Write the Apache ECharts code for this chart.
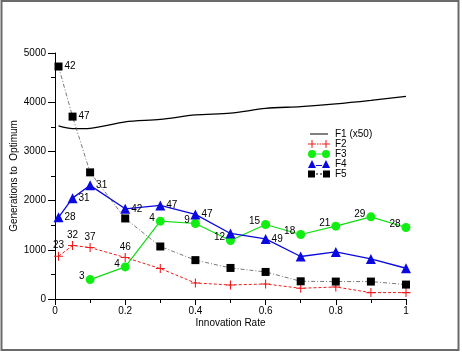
<!DOCTYPE html>
<html>
<head>
<meta charset="utf-8">
<script src="https://cdn.jsdelivr.net/npm/echarts@6/dist/echarts.min.js"></script>
<style>
  html, body { margin: 0; padding: 0; background: #fff; }
  #chart { width: 462px; height: 352px; }
</style>
</head>
<body>
<div id="chart"></div>
<script>
  // innovation rates (x)
  var rates = [0.01, 0.05, 0.1, 0.2, 0.3, 0.4, 0.5, 0.6, 0.7, 0.8, 0.9, 1.0];

  var f1 = [3517, 3462, 3470, 3600, 3650, 3741, 3776, 3874, 3910, 3965, 4037, 4118];
  var f2 = [870, 1088, 1047, 843, 619, 326, 285, 305, 218, 244, 130, 130];
  var f3 = [null, null, 395, 652, 1582, 1535, 1189, 1515, 1311, 1480, 1670, 1454];
  var f4 = [1660, 2050, 2310, 1833, 1902, 1719, 1332, 1222, 864, 957, 815, 625];
  var f5 = [4725, 3707, 2574, 1637, 1067, 790, 631, 550, 360, 354, 354, 293];

  // point annotations
  var f2Labels = ["23", "32", "37", "46", null, null, null, null, null, null, null, null];
  var f3Labels = [null, null, "3", "4", "4", "9", "12", "15", "18", "21", "29", "28"];
  var f4Labels = ["28", "31", "31", "42", "47", "47", null, "49", null, null, null, null];
  var f5Labels = ["42", "47", null, null, null, null, null, null, null, null, null, null];

  var FONT = "'Liberation Sans', Arial, Helvetica, sans-serif";

  function points(values, labels) {
    return rates.map(function (x, i) {
      var item = { value: [x, values[i]] };
      if (labels && labels[i] != null) {
        item.label = { show: true, formatter: labels[i] };
      }
      return item;
    });
  }

  var plusPath = "path://M0,4.4H10V5.6H0Z M4.4,0H5.6V10H4.4Z";

  var chart = echarts.init(document.getElementById("chart"));
  chart.setOption({
    animation: false,
    textStyle: { fontFamily: FONT },
    graphic: [{
      type: "rect",
      shape: { x: 1.5, y: 1, width: 457, height: 349 },
      style: { fill: "none", stroke: "#6a6a6a", lineWidth: 2 },
      z: -1
    }],
    grid: { left: 55, right: 56, top: 53, bottom: 53, outerBoundsMode: "none", containLabel: false },
    legend: {
      orient: "vertical",
      left: 303,
      top: 124,
      itemWidth: 22,
      itemHeight: 8,
      itemGap: 0,
      textStyle: { fontSize: 10, color: "#000", fontFamily: FONT, lineHeight: 10 },
      data: [
        { name: "F1 (x50)", icon: "path://M0,0M22,8M2,3.5H20V4.5H2Z" },
        { name: "F2", icon: "path://M0,3.5H8V4.5H0Z M3.5,0H4.5V8H3.5Z M14,3.5H22V4.5H14Z M17.5,0H18.5V8H17.5Z M9,3.6H10.5V4.4H9Z M11.5,3.6H13V4.4H11.5Z" },
        { name: "F3", icon: "path://M0,4A4,4 0 1,0 8,4A4,4 0 1,0 0,4Z M14,4A4,4 0 1,0 22,4A4,4 0 1,0 14,4Z M8,3.5H14V4.5H8Z" },
        { name: "F4", icon: "path://M0,8L4,0L8,8Z M14,8L18,0L22,8Z M8,5H14V6H8Z" },
        { name: "F5", icon: "path://M0,0.5H7V7.5H0Z M15,0.5H22V7.5H15Z M8,3.6H10V4.4H8Z M12,3.6H14V4.4H12Z" }
      ]
    },
    xAxis: {
      type: "value",
      min: 0,
      max: 1,
      interval: 0.2,
      name: "Innovation Rate",
      nameLocation: "middle",
      nameGap: 19,
      nameMoveOverlap: false,
      nameTextStyle: { fontSize: 10, color: "#000", fontFamily: FONT },
      axisLine: { show: true, onZero: false, lineStyle: { color: "#000", width: 1 } },
      axisTick: { show: true, inside: false, length: 6, lineStyle: { color: "#000" } },
      minorTick: { show: true, splitNumber: 2, length: 4, lineStyle: { color: "#000" } },
      splitLine: { show: false },
      axisLabel: { fontSize: 10, color: "#000", margin: 7, fontFamily: FONT }
    },
    yAxis: {
      type: "value",
      min: 0,
      max: 5000,
      interval: 1000,
      name: "Generations to  Optimum",
      nameLocation: "middle",
      nameGap: 36,
      nameMoveOverlap: false,
      nameTextStyle: { fontSize: 10, color: "#000", fontFamily: FONT },
      axisLine: { show: true, onZero: false, lineStyle: { color: "#000", width: 1 } },
      axisTick: { show: true, inside: false, length: 7, lineStyle: { color: "#000" } },
      minorTick: { show: true, splitNumber: 2, length: 4, lineStyle: { color: "#000" } },
      splitLine: { show: false },
      axisLabel: { fontSize: 10, color: "#000", margin: 9, fontFamily: FONT, formatter: function (v) { return String(v); } }
    },
    series: [
      {
        name: "F1 (x50)",
        type: "line",
        symbol: "none",
        smooth: 0.3,
        itemStyle: { color: "#000" },
        lineStyle: { color: "#000", width: 1.3 },
        data: points(f1, null),
        z: 1
      },
      {
        name: "F2",
        type: "line",
        symbol: plusPath,
        symbolSize: 9,
        itemStyle: { color: "#ee1c1c" },
        lineStyle: { color: "#ee1c1c", width: 1, type: [3, 2] },
        label: { position: "top", distance: 1, fontSize: 10, color: "#000", fontFamily: FONT },
        data: points(f2, f2Labels),
        z: 2
      },
      {
        name: "F3",
        type: "line",
        symbol: "circle",
        symbolSize: 9,
        itemStyle: { color: "#11ee11" },
        lineStyle: { color: "#11dd11", width: 1.2 },
        label: { position: "left", distance: 1, offset: [0, -3], fontSize: 10, color: "#000", fontFamily: FONT },
        data: points(f3, f3Labels),
        z: 3
      },
      {
        name: "F4",
        type: "line",
        symbol: "triangle",
        symbolSize: 10,
        itemStyle: { color: "#0a0ae0" },
        lineStyle: { color: "#0a0ae0", width: 1.3 },
        label: { position: "right", distance: 1, fontSize: 10, color: "#000", fontFamily: FONT },
        data: points(f4, f4Labels),
        z: 4
      },
      {
        name: "F5",
        type: "line",
        symbol: "rect",
        symbolSize: 8,
        itemStyle: { color: "#000" },
        lineStyle: { color: "#555", width: 0.8, type: [4, 2, 1, 2] },
        label: { position: "right", distance: 2, fontSize: 10, color: "#000", fontFamily: FONT },
        data: points(f5, f5Labels),
        z: 5
      }
    ]
  });
</script>
</body>
</html>
